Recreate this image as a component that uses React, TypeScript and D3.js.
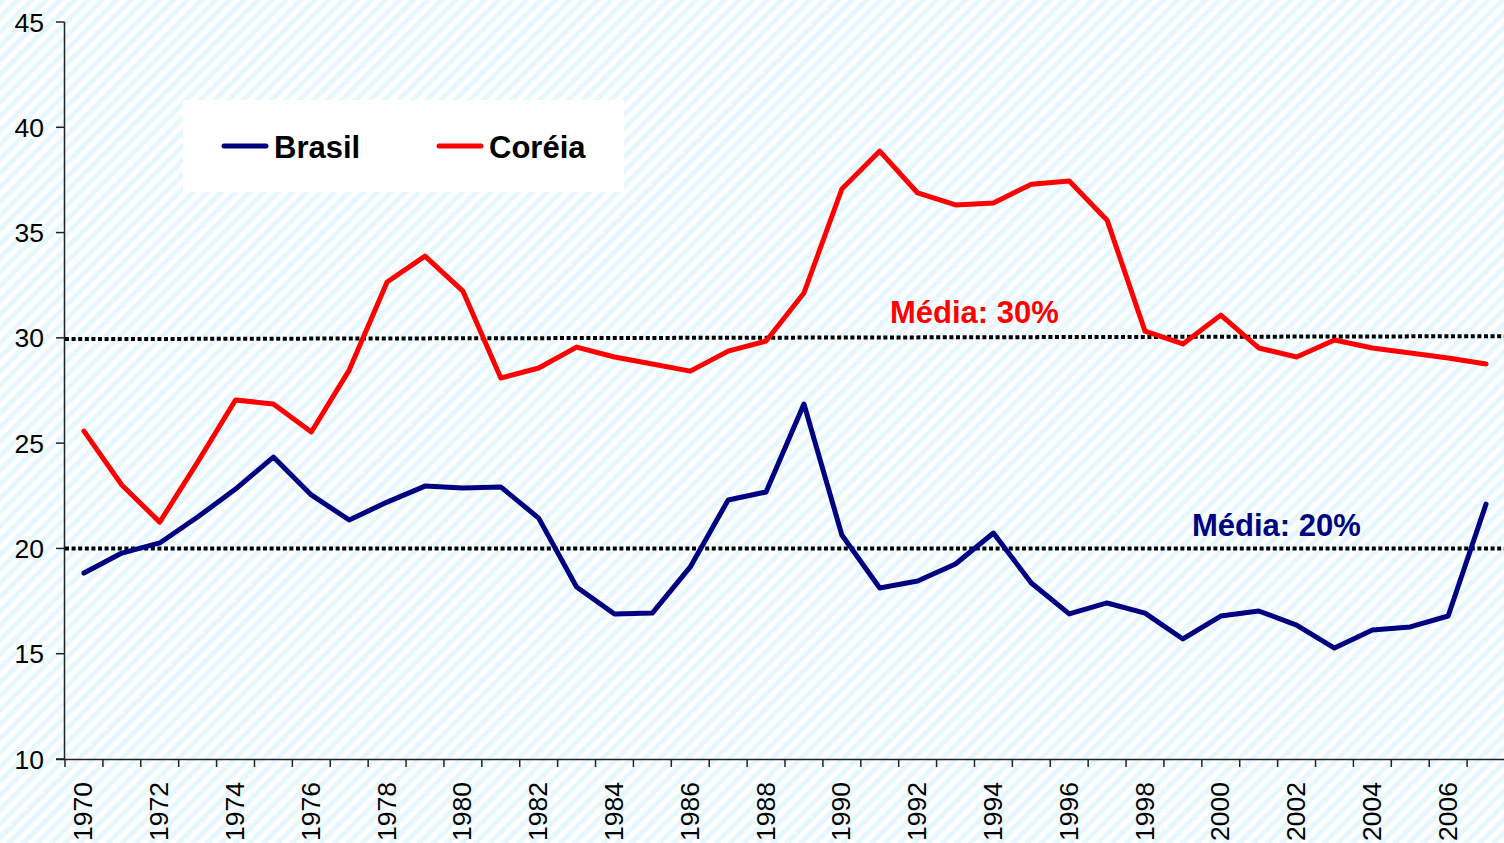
import React from "react";
import * as d3 from "d3";

const years: number[] = d3.range(1970, 2008);
const brasil: number[] = [
  18.83, 19.78, 20.26, 21.49, 22.82, 24.34, 22.54, 21.35, 22.2, 22.96,
  22.87, 22.92, 21.44, 18.17, 16.89, 16.93, 19.12, 22.3, 22.68, 26.86,
  20.64, 18.12, 18.45, 19.26, 20.73, 18.36, 16.89, 17.41, 16.93, 15.7,
  16.79, 17.03, 16.36, 15.27, 16.13, 16.27, 16.79, 22.11,
];
const coreia: number[] = [
  25.57, 23.01, 21.25, 24.1, 27.05, 26.86, 25.53, 28.47, 32.65, 33.88,
  32.22, 28.09, 28.57, 29.56, 29.09, 28.76, 28.42, 29.37, 29.85, 32.13,
  37.07, 38.87, 36.88, 36.31, 36.4, 37.3, 37.45, 35.59, 30.32, 29.71,
  31.08, 29.52, 29.09, 29.9, 29.52, 29.28, 29.04, 28.76,
];
const yTicks: number[] = [10, 15, 20, 25, 30, 35, 40, 45];
const meanBrasil: number[] = [20, 20];
const meanCoreia: number[] = [29.94, 30.08];
const seriesNames: string[] = ["Brasil", "Coréia"];
const meanLabels: string[] = ["Média: 20%", "Média: 30%"];

const W = 1504;
const H = 843;
const left = 65;
const right = 1505;
const top = 22;
const bottom = 759;
const BLUE = "#000080";
const RED = "#ff0000";
const FONT = "'Liberation Sans', Arial, sans-serif";

export default function App() {
  const x = d3.scaleBand<number>().domain(years).range([left, right]);
  const y = d3.scaleLinear().domain([10, 45]).range([bottom, top]);
  const cx = (yr: number) => (x(yr) as number) + x.bandwidth() / 2;
  const line = d3
    .line<number>()
    .x((_, i) => cx(years[i]))
    .y((d) => y(d));

  const boundaries = years.map((yr) => x(yr) as number);

  return (
    <svg
      width={W}
      height={H}
      style={{ position: "absolute", left: 0, top: 0, display: "block" }}
      fontFamily={FONT}
    >
      <defs>
        <pattern
          id="hatch"
          width={10}
          height={10}
          patternUnits="userSpaceOnUse"
          patternTransform="rotate(45)"
        >
          <rect width={10} height={10} fill="#ffffff" />
          <rect width={5} height={10} fill="#e6f8fe" />
        </pattern>
      </defs>
      <rect x={0} y={0} width={W} height={H} fill="url(#hatch)" />

      {/* legend box */}
      <rect x={183} y={100} width={441} height={92} fill="#ffffff" />
      <line x1={224} x2={266} y1={146} y2={146} stroke={BLUE} strokeWidth={5} strokeLinecap="round" />
      <text x={274} y={158} fontSize={31} fontWeight="bold" fill="#000">{seriesNames[0]}</text>
      <line x1={439} x2={481} y1={146} y2={146} stroke={RED} strokeWidth={5} strokeLinecap="round" />
      <text x={489} y={158} fontSize={31} fontWeight="bold" fill="#000">{seriesNames[1]}</text>

      {/* axes */}
      <line x1={64.5} x2={64.5} y1={top} y2={bottom} stroke="#222" strokeWidth={1.5} />
      <line x1={56} x2={W} y1={bottom + 0.5} y2={bottom + 0.5} stroke="#222" strokeWidth={1.5} />
      {yTicks.map((t) => (
        <g key={t}>
          <line x1={56} x2={64.5} y1={y(t)} y2={y(t)} stroke="#222" strokeWidth={1.5} />
          <text x={44} y={y(t)} dy="0.36em" textAnchor="end" fontSize={26.5} fill="#000">
            {t}
          </text>
        </g>
      ))}
      {boundaries.map((b, i) => (
        <line key={i} x1={b} x2={b} y1={bottom} y2={bottom + 8} stroke="#222" strokeWidth={1.5} />
      ))}
      {years
        .filter((yr) => yr % 2 === 0)
        .map((yr) => (
          <text
            key={yr}
            transform={`translate(${cx(yr) - 1},782) rotate(-90)`}
            textAnchor="end"
            dy="0.36em"
            fontSize={26.5}
            fill="#000"
          >
            {yr}
          </text>
        ))}

      {/* mean lines */}
      <line
        x1={left}
        x2={W}
        y1={y(meanCoreia[0])}
        y2={y(meanCoreia[1])}
        stroke="#000"
        strokeWidth={4}
        strokeDasharray="4 2.6"
      />
      <line
        x1={left}
        x2={W}
        y1={y(meanBrasil[0])}
        y2={y(meanBrasil[1])}
        stroke="#000"
        strokeWidth={4}
        strokeDasharray="4 2.6"
      />
      <text x={890} y={323} fontSize={31} fontWeight="bold" fill={RED}>{meanLabels[1]}</text>
      <text x={1192} y={536} fontSize={31} fontWeight="bold" fill={BLUE}>{meanLabels[0]}</text>

      {/* series */}
      <path d={line(coreia) ?? ""} fill="none" stroke={RED} strokeWidth={5} strokeLinejoin="round" strokeLinecap="round" />
      <path d={line(brasil) ?? ""} fill="none" stroke={BLUE} strokeWidth={5} strokeLinejoin="round" strokeLinecap="round" />
    </svg>
  );
}
